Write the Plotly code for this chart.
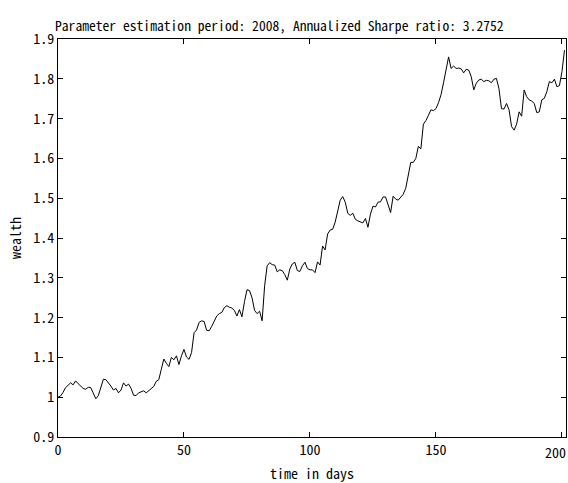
import plotly.graph_objects as go

days = list(range(0, 202))
wealth = [
    1.000, 1.003, 1.012, 1.024, 1.030, 1.036, 1.031, 1.041, 1.034, 1.028,
    1.022, 1.020, 1.025, 1.024, 1.012, 0.996, 1.004, 1.022, 1.045, 1.044,
    1.037, 1.028, 1.018, 1.022, 1.011, 1.018, 1.036, 1.028, 1.033, 1.022,
    1.005, 1.004, 1.011, 1.014, 1.016, 1.011, 1.017, 1.022, 1.027, 1.040,
    1.044, 1.070, 1.096, 1.085, 1.077, 1.100, 1.094, 1.104, 1.082, 1.104,
    1.120, 1.101, 1.095, 1.112, 1.162, 1.169, 1.188, 1.192, 1.190, 1.168,
    1.167, 1.178, 1.190, 1.204, 1.210, 1.213, 1.225, 1.230, 1.226, 1.224,
    1.218, 1.204, 1.220, 1.202, 1.240, 1.270, 1.268, 1.250, 1.218, 1.210,
    1.216, 1.192, 1.280, 1.330, 1.338, 1.333, 1.332, 1.315, 1.320, 1.318,
    1.308, 1.294, 1.322, 1.335, 1.339, 1.318, 1.316, 1.330, 1.339, 1.323,
    1.320, 1.320, 1.313, 1.340, 1.332, 1.380, 1.370, 1.410, 1.420, 1.422,
    1.440, 1.468, 1.495, 1.504, 1.490, 1.462, 1.457, 1.462, 1.447, 1.443,
    1.440, 1.438, 1.449, 1.427, 1.460, 1.480, 1.478, 1.490, 1.491, 1.503,
    1.503, 1.485, 1.464, 1.505, 1.498, 1.495, 1.502, 1.510, 1.525, 1.562,
    1.590, 1.590, 1.600, 1.630, 1.624, 1.686, 1.695, 1.708, 1.722, 1.720,
    1.725, 1.740, 1.760, 1.790, 1.826, 1.855, 1.826, 1.832, 1.826, 1.827,
    1.825, 1.815, 1.824, 1.822, 1.805, 1.772, 1.789, 1.797, 1.799, 1.793,
    1.796, 1.795, 1.790, 1.799, 1.801, 1.775, 1.725, 1.724, 1.738, 1.722,
    1.680, 1.671, 1.686, 1.717, 1.706, 1.772, 1.755, 1.747, 1.744, 1.738,
    1.715, 1.717, 1.747, 1.751, 1.768, 1.793, 1.790, 1.799, 1.780, 1.783,
    1.818, 1.872,
]

x_ticks = [0, 50, 100, 150, 200]
x_tick_labels = ["0", "50", "100", "150", ""]
last_x_label = "200"
y_ticks = [0.9, 1.0, 1.1, 1.2, 1.3, 1.4, 1.5, 1.6, 1.7, 1.8, 1.9]
y_tick_labels = ["0.9", "1", "1.1", "1.2", "1.3", "1.4", "1.5", "1.6", "1.7", "1.8", "1.9"]

title_text = "Parameter estimation period: 2008, Annualized Sharpe ratio: 3.2752"
FONT = "Noto Sans Mono CJK JP, Noto Sans CJK JP, DejaVu Sans Mono, monospace"

fig = go.Figure()
fig.add_trace(go.Scatter(
    x=days, y=wealth, mode="lines",
    line=dict(color="black", width=1),
    hoverinfo="skip", showlegend=False,
))

axis_common = dict(
    showgrid=False, zeroline=False, showline=True, linecolor="black", linewidth=1,
    mirror="allticks", ticks="inside", ticklen=5, tickcolor="black", tickwidth=1,
    tickfont=dict(family=FONT, size=14, color="black"),
)

fig.update_layout(
    width=568, height=483,
    margin=dict(l=58, r=2, t=39, b=46),
    paper_bgcolor="white", plot_bgcolor="white",
    font=dict(family=FONT, size=14, color="black"),
    xaxis=dict(range=[0, 201.6], tickvals=x_ticks, ticktext=x_tick_labels, **axis_common),
    yaxis=dict(range=[0.9, 1.9], tickvals=y_ticks, ticktext=y_tick_labels, **axis_common),
    annotations=[
        dict(text=title_text, xref="paper", yref="paper", x=0.436, y=1, yshift=14,
             xanchor="center", yanchor="middle", showarrow=False,
             font=dict(family=FONT, size=13.6, color="black")),
        dict(text=last_x_label, xref="x", yref="paper", x=x_ticks[-1], y=0, xshift=6, yshift=-3,
             xanchor="right", yanchor="top", showarrow=False,
             font=dict(family=FONT, size=14, color="black")),
        dict(text="time in days", xref="paper", yref="paper", x=0.5, y=0, yshift=-36,
             xanchor="center", yanchor="middle", showarrow=False,
             font=dict(family=FONT, size=14, color="black")),
        dict(text="wealth", xref="paper", yref="paper", x=0, y=0.5, xshift=-43,
             xanchor="center", yanchor="middle", showarrow=False, textangle=-90,
             font=dict(family=FONT, size=14, color="black")),
    ],
)

fig.write_html("out.html", config={"displayModeBar": False},
               post_script="document.body.style.margin='0';")
